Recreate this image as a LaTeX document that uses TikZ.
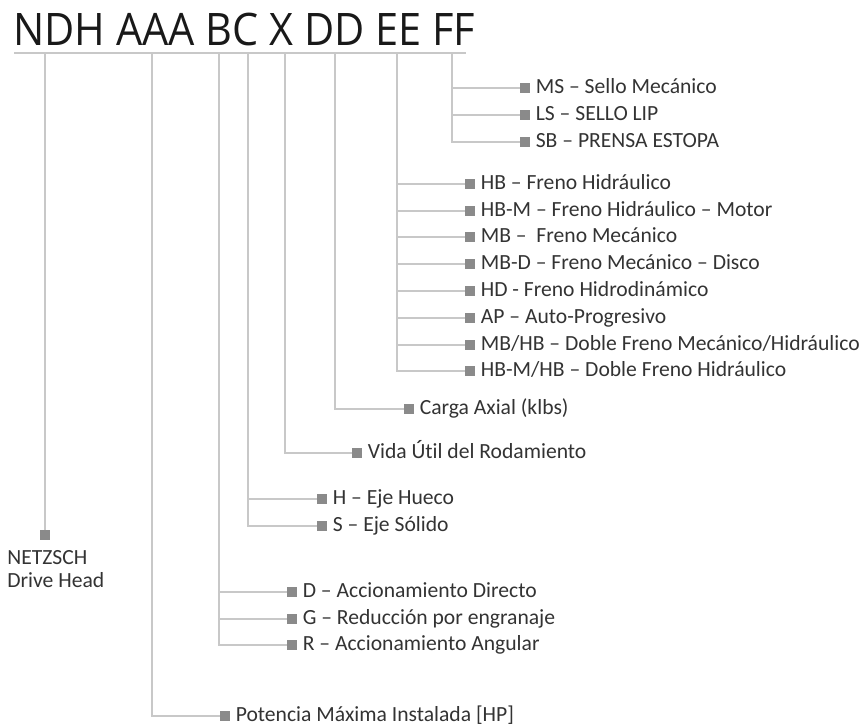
\documentclass[tikz,border=0pt]{standalone}
\usepackage{fontspec}
\setmainfont{Carlito}[Ligatures={NoCommon}]
\newfontfamily\codefont{Open Sans}
\usepackage{xcolor}
\usetikzlibrary{positioning}

\definecolor{linegray}{HTML}{C8C8C8}
\definecolor{dotgray}{HTML}{8A8A8A}
\definecolor{textgray}{HTML}{333333}

\begin{document}
\begin{tikzpicture}[
    x=0.02cm, y=-0.02cm,
    branch/.style={draw=linegray, line width=0.9pt},
    dot/.style={fill=dotgray, rectangle, inner sep=0pt, minimum size=5.5pt},
    lbl/.style={anchor=west, inner sep=0pt, text=textgray, font=\fontsize{12.3}{14}\selectfont, text height=1.6ex, text depth=0.3ex}
]
\useasboundingbox (0,0) rectangle (862,725);

% Code line
\node[anchor=base west, inner sep=0pt, font=\codefont\fontsize{25.5}{28}\selectfont, text=black!90] (code) at (13,45) {\scalebox{0.925}[1]{NDH AAA BC X DD EE FF}};
\draw[branch] (14,53) -- (466,53);
\foreach \nm/\x in {ndh/45, aaa/152, b/219, c/248, x/285, dd/335, ee/397, ff/452}
    \coordinate (\nm) at (\x,53);

% FF: seal
\node[dot] (ms) at (525,88) {};
\node[dot] (ls) at (525,115) {};
\node[dot] (sb) at (525,142) {};
\node[lbl, right=3pt of ms] {MS – Sello Mecánico};
\node[lbl, right=3pt of ls] {LS – SELLO LIP};
\node[lbl, right=3pt of sb] {SB – PRENSA ESTOPA};
\foreach \t in {ms, ls, sb}
    \draw[branch] (ff) |- (\t);

% EE: brake
\node[dot] (hb) at (470,184) {};
\node[dot] (hbm) at (470,211) {};
\node[dot] (mb) at (470,237) {};
\node[dot] (mbd) at (470,264) {};
\node[dot] (hd) at (470,291) {};
\node[dot] (ap) at (470,318) {};
\node[dot] (mbhb) at (470,345) {};
\node[dot] (hbmhb) at (470,371) {};
\node[lbl, right=3pt of hb] {HB – Freno Hidráulico};
\node[lbl, right=3pt of hbm] {HB-M – Freno Hidráulico – Motor};
\node[lbl, right=3pt of mb] {MB –\ \ Freno Mecánico};
\node[lbl, right=3pt of mbd] {MB-D – Freno Mecánico – Disco};
\node[lbl, right=3pt of hd] {HD - Freno Hidrodinámico};
\node[lbl, right=3pt of ap] {AP – Auto-Progresivo};
\node[lbl, right=3pt of mbhb] {MB/HB – Doble Freno Mecánico/Hidráulico};
\node[lbl, right=3pt of hbmhb] {HB-M/HB – Doble Freno Hidráulico};
\foreach \t in {hb, hbm, mb, mbd, hd, ap, mbhb, hbmhb}
    \draw[branch] (ee) |- (\t);

% DD: axial load
\node[dot] (carga) at (409,409) {};
\node[lbl, right=3pt of carga] {Carga Axial (klbs)};
\draw[branch] (dd) |- (carga);

% X: bearing life
\node[dot] (vida) at (357,453) {};
\node[lbl, right=3pt of vida] {Vida Út\kern0pt il del Rodamiento};
\draw[branch] (x) |- (vida);

% C: shaft
\node[dot] (hueco) at (322,499) {};
\node[dot] (solido) at (322,526) {};
\node[lbl, right=3pt of hueco] {H – Eje Hueco};
\node[lbl, right=3pt of solido] {S – Eje Sólido};
\foreach \t in {hueco, solido}
    \draw[branch] (c) |- (\t);

% NDH
\node[dot] (netzsch) at (45,535) {};
\node[anchor=north west, inner sep=0pt, align=left, text=textgray, font=\fontsize{12.3}{13.3}\selectfont] at (7,550) {NETZSCH\\Drive Head};
\draw[branch] (ndh) -- (netzsch);

% B: drive
\node[dot] (dir) at (292,592) {};
\node[dot] (gear) at (292,619) {};
\node[dot] (ang) at (292,645) {};
\node[lbl, right=3pt of dir] {D – Accionamiento Directo};
\node[lbl, right=3pt of gear] {G – Reducción por engranaje};
\node[lbl, right=3pt of ang] {R – Accionamiento Angular};
\foreach \t in {dir, gear, ang}
    \draw[branch] (b) |- (\t);

% AAA: power
\node[dot] (pot) at (225,716) {};
\node[lbl, right=3pt of pot] {Potencia Máxima Instalada [HP]};
\draw[branch] (aaa) |- (pot);
\end{tikzpicture}
\end{document}
